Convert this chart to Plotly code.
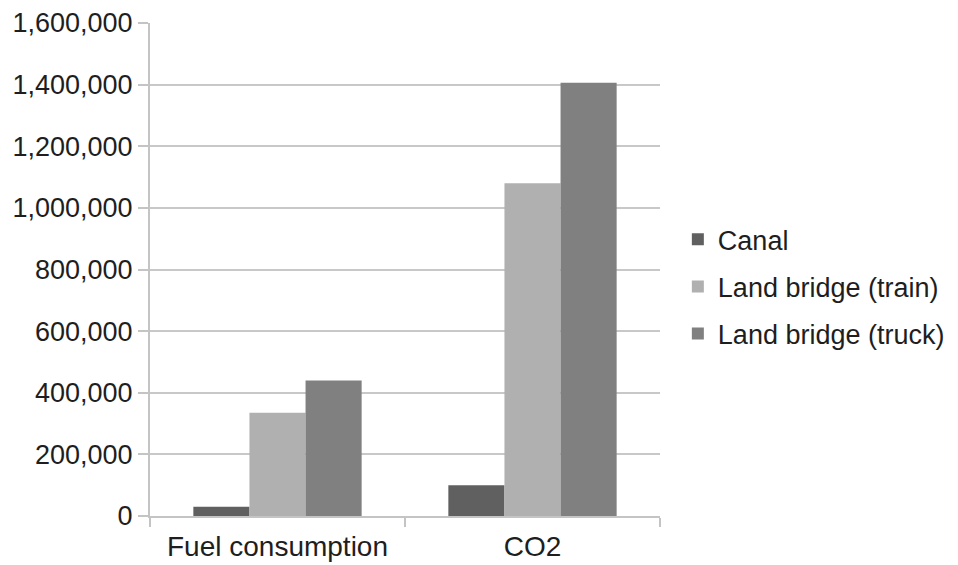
import plotly.graph_objects as go

categories = ["Fuel consumption", "CO2"]
series_names = ["Canal", "Land bridge (train)", "Land bridge (truck)"]
canal = [30000, 100000]
train = [335000, 1080000]
truck = [440000, 1406000]
colors = ["#606060", "#b0b0b0", "#808080"]
tick_vals = [0, 200000, 400000, 600000, 800000, 1000000, 1200000, 1400000, 1600000]
tick_text = ["0", "200,000", "400,000", "600,000", "800,000", "1,000,000",
             "1,200,000", "1,400,000", "1,600,000"]

fig = go.Figure()
for name, vals, col in zip(series_names, [canal, train, truck], colors):
    fig.add_trace(go.Bar(name=name, x=categories, y=vals, marker_color=col,
                         marker_line_width=0, legendgroup=name))

fam = "Liberation Sans, Arial, sans-serif"
yfont = dict(family=fam, size=27, color="#1e1e1e")
xfont = dict(family=fam, size=28, color="#1e1e1e")
legend_font = dict(family=fam, size=27, color="#1e1e1e")
fig.update_layout(
    width=950, height=557,
    margin=dict(l=142, r=298, t=15, b=49, autoexpand=False),
    paper_bgcolor="white", plot_bgcolor="white",
    barmode="group", bargap=0.34, bargroupgap=0,
    font=yfont,
    showlegend=True,
    legend=dict(x=1.035, xanchor="left", y=0.465, yanchor="middle",
                font=legend_font, bgcolor="rgba(0,0,0,0)", tracegroupgap=9,
                itemwidth=30),
    xaxis=dict(showgrid=False, showline=True, linecolor="#c4c4c4", linewidth=2,
               ticks="outside", tickson="boundaries", ticklen=9,
               tickcolor="#c4c4c4", tickwidth=2, tickfont=xfont, automargin=False,
               ticklabelstandoff=4),
    yaxis=dict(range=[0, 1600000], tickvals=tick_vals, ticktext=tick_text,
               showgrid=True, gridcolor="#c8c8c8", gridwidth=2,
               showline=True, linecolor="#c4c4c4", linewidth=2,
               ticks="outside", ticklen=10, tickcolor="#c4c4c4", tickwidth=2,
               zeroline=False, tickfont=yfont, automargin=False),
)
fig.write_html("out.html")
